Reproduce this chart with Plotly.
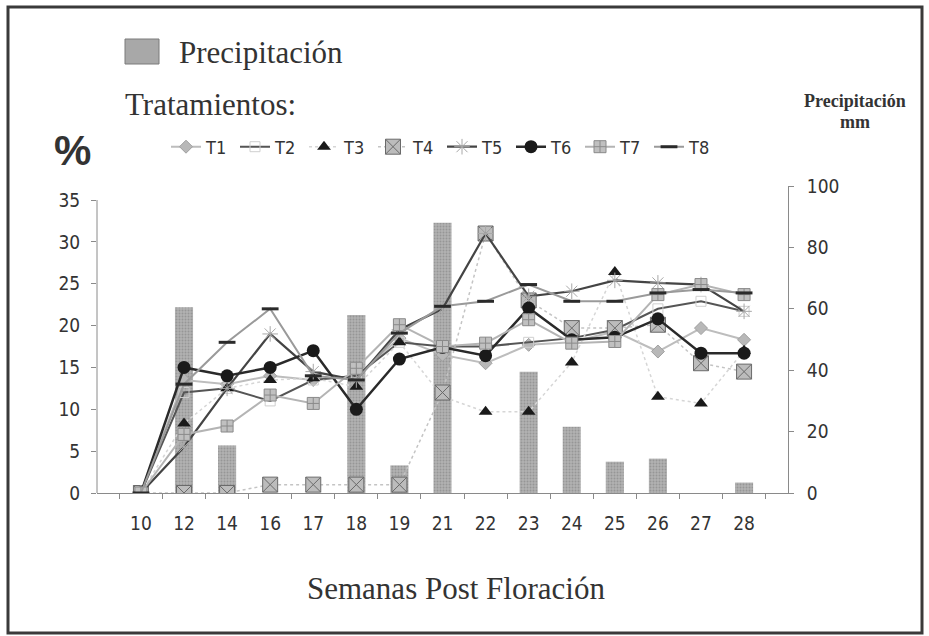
import plotly.graph_objects as go

weeks = ["10", "12", "14", "16", "17", "18", "19", "21", "22", "23", "24", "25", "26", "27", "28"]
precip = [0, 60.5, 15.5, 0, 0, 58, 9, 88, 0, 39.5, 21.6, 10.2, 11.2, 0, 3.4]

T1 = [0, 13.5, 13, 14, 13.5, 14, 18.5, 16.5, 15.5, 17.7, 18, 19.3, 16.9, 19.7, 18.3]
T2 = [0, 12, 12.5, 11, 13.5, 14, 18, 17.5, 17.5, 18, 18.5, 19.5, 22, 22.9, 21.7]
T3 = [0, 8.3, 12.5, 13.5, 13.7, 12.7, 18, 11.5, 9.7, 9.7, 15.6, 26.4, 11.5, 10.7, 17]
T4 = [0, 0, 0, 1, 1, 1, 1, 12, 31, 23, 19.7, 19.7, 20.1, 15.5, 14.5]
T5 = [0, 5.5, 12.5, 19, 14.5, 13.5, 19.5, 22, 31, 23.5, 24.1, 25.4, 25.1, 24.9, 21.7]
T6 = [0, 15, 14, 15, 17, 10, 16, 17.4, 16.4, 22.1, 18.3, 18.6, 20.8, 16.7, 16.7]
T7 = [0, 7, 8, 11.7, 10.7, 14.9, 20.1, 17.5, 17.9, 20.7, 17.9, 18.1, 23.7, 24.9, 23.7]
T8 = [0, 13, 18, 22, 14, 13.5, 19.1, 22.3, 22.9, 24.9, 22.9, 22.9, 23.9, 24.3, 23.9]

left_ticks = [0, 5, 10, 15, 20, 25, 30, 35]
right_ticks = [0, 20, 40, 60, 80, 100]

W, H = 929, 636
PL, PR, PT, PB = 97, 788, 186, 493


def xp(px):
    return (px - PL) / (PR - PL)


def yp(py):
    return (PB - py) / (PB - PT)


NARROW = "Liberation Sans Narrow, Arial Narrow, DejaVu Sans Condensed, Liberation Sans, Arial, sans-serif"
SERIF = "Liberation Serif, Times New Roman, serif"

fig = go.Figure()

# Precipitation bars on the primary (right-side) axis so lines draw above them
fig.add_trace(go.Bar(
    x=weeks, y=precip, name="Precipitación", yaxis="y", width=0.42,
    marker=dict(color="#a2a2a2", line=dict(color="#8a8a8a", width=0),
                pattern=dict(shape=".", fgcolor="#7a7a7a", bgcolor="#b2b2b2", size=3, solidity=0.35)),
    showlegend=False,
))

series = [
    ("T1", T1, dict(color="#bdbdbd", width=2), dict(symbol="diamond", size=10, color="#b8b8b8", line=dict(color="#a0a0a0", width=1))),
    ("T2", T2, dict(color="#555555", width=2), dict(symbol="square-open", size=10, color="#cfcfcf", line=dict(color="#cfcfcf", width=1))),
    ("T3", T3, dict(color="#d6d6d6", width=1.5, dash="dot"), dict(symbol="triangle-up", size=12, color="#1a1a1a")),
    ("T4", T4, dict(color="#c4c4c4", width=1.5, dash="dot"), dict(symbol="square-x", size=15, color="#bcbcbc", line=dict(color="#6a6a6a", width=1))),
    ("T5", T5, dict(color="#444444", width=2.2), dict(symbol="asterisk-open", size=13, color="#a8a8a8", line=dict(color="#a8a8a8", width=1))),
    ("T6", T6, dict(color="#2a2a2a", width=2.5), dict(symbol="circle", size=13, color="#1a1a1a")),
    ("T7", T7, dict(color="#b4b4b4", width=2), dict(symbol="square-cross", size=12, color="#c0c0c0", line=dict(color="#8a8a8a", width=1))),
    ("T8", T8, dict(color="#9a9a9a", width=2), dict(symbol="line-ew", size=12, color="#2a2a2a", line=dict(color="#2a2a2a", width=3))),
]

for name, vals, ln, mk in series:
    fig.add_trace(go.Scatter(
        x=weeks, y=vals, name=name, mode="lines+markers", yaxis="y2",
        line=ln, marker=mk,
    ))

shapes = [
    dict(type="rect", xref="paper", yref="paper", x0=xp(8), x1=xp(922), y0=yp(633), y1=yp(7),
         line=dict(color="#3a3a3a", width=3), fillcolor="rgba(0,0,0,0)", layer="above"),
    dict(type="line", xref="paper", yref="y2", x0=0, x1=0, y0=0, y1=35,
         line=dict(color="#8a8a8a", width=1)),
    dict(type="rect", xref="paper", yref="paper", x0=xp(125), x1=xp(159), y0=yp(64), y1=yp(39),
         line=dict(color="#7a7a7a", width=1), fillcolor="#a8a8a8"),
]

annotations = [
    dict(text="Precipitación", x=xp(177), y=yp(52), xref="paper", yref="paper",
         xanchor="left", yanchor="middle", showarrow=False,
         font=dict(family=SERIF, size=31, color="#333333")),
    dict(text="Tratamientos:", x=xp(123), y=yp(104), xref="paper", yref="paper",
         xanchor="left", yanchor="middle", showarrow=False,
         font=dict(family=SERIF, size=31, color="#333333")),
    dict(text="<b>Precipitación</b>", x=xp(855), y=yp(101), xref="paper", yref="paper",
         xanchor="center", yanchor="middle", showarrow=False,
         font=dict(family=SERIF, size=18, color="#333333")),
    dict(text="<b>mm</b>", x=xp(855), y=yp(122), xref="paper", yref="paper",
         xanchor="center", yanchor="middle", showarrow=False,
         font=dict(family=SERIF, size=18, color="#333333")),
    dict(text="<b>%</b>", x=xp(72), y=yp(150), xref="paper", yref="paper",
         xanchor="center", yanchor="middle", showarrow=False,
         font=dict(family="Liberation Sans, Arial, sans-serif", size=42, color="#333333")),
    dict(text="Semanas Post Floración", x=xp(456), y=yp(588), xref="paper", yref="paper",
         xanchor="center", yanchor="middle", showarrow=False,
         font=dict(family=SERIF, size=31, color="#333333")),
]

fig.update_layout(
    width=W, height=H,
    margin=dict(l=PL, r=W - PR, t=PT, b=H - PB, pad=0),
    paper_bgcolor="white", plot_bgcolor="white",
    font=dict(family=NARROW, size=19, color="#333333"),
    xaxis=dict(
        type="category", showgrid=False, showline=True, linecolor="#8a8a8a", linewidth=1,
        ticks="outside", ticklen=5, tickcolor="#8a8a8a", tickson="boundaries",
        tickfont=dict(family=NARROW, size=19, color="#333333"), ticklabelstandoff=13,
        zeroline=False,
    ),
    yaxis=dict(
        side="right", range=[0, 100], tickvals=right_ticks, showgrid=False,
        showline=True, linecolor="#8a8a8a", linewidth=1, ticks="outside", ticklen=5,
        tickcolor="#8a8a8a", tickfont=dict(family=NARROW, size=19, color="#333333"),
        ticklabelstandoff=9, zeroline=False,
    ),
    yaxis2=dict(
        overlaying="y", side="left", range=[0, 35 * (PB - PT) / (PB - 200)], tickvals=left_ticks,
        showgrid=False, showline=False, ticks="outside", ticklen=5, tickcolor="#8a8a8a",
        tickfont=dict(family=NARROW, size=19, color="#333333"), ticklabelstandoff=7,
        zeroline=False,
    ),
    legend=dict(
        orientation="h", x=xp(166), y=yp(147), xanchor="left", yanchor="middle",
        font=dict(family=NARROW, size=18, color="#333333"), bgcolor="rgba(0,0,0,0)",
        itemwidth=30, entrywidth=24, entrywidthmode="pixels", tracegroupgap=0,
    ),
    shapes=shapes,
    annotations=annotations,
)

fig.write_html("out.html")
